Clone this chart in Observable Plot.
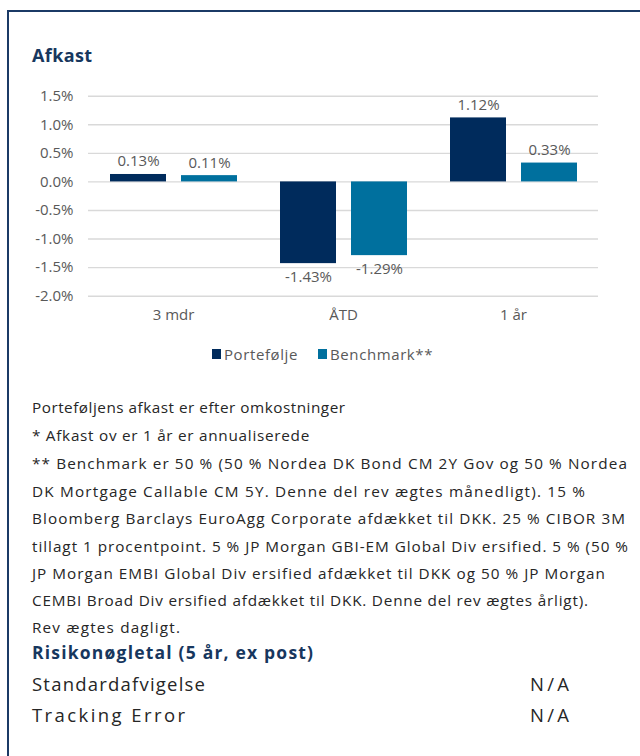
<!DOCTYPE html>
<html>
<head>
<meta charset="utf-8">
<script src="https://cdn.jsdelivr.net/npm/d3@7"></script>
<script src="https://cdn.jsdelivr.net/npm/@observablehq/plot@0.6"></script>
<style>
  html, body { margin: 0; padding: 0; background: #fff; }
  body { width: 640px; height: 756px; position: relative; overflow: hidden; font-family: "Open Sans", sans-serif; color: #262626; }
  .frame { position: absolute; left: 7px; top: 10px; width: 700px; height: 800px; border-top: 2.5px solid #1b3a66; border-left: 2.5px solid #1b3a66; box-sizing: border-box; }
  .abs { position: absolute; white-space: nowrap; line-height: 20px; }
  .title { font-weight: 700; color: #17375e; font-size: 18px; }
  .note { font-size: 15.3px; color: #262626; }
  .risk { font-size: 18.5px; color: #262626; }
  #chart { position: absolute; left: 0; top: 70px; }
  #legend { position: absolute; left: 212px; top: 344px; display: flex; align-items: center; font-size: 15px; color: #595959; line-height: 20px; letter-spacing: 0.6px; }
  #legend .item { display: flex; align-items: center; margin-right: 20px; }
  #legend .sw { width: 9px; height: 10px; margin-right: 3px; }
</style>
</head>
<body>
<div class="frame"></div>
<div class="abs title" style="left:32px; top:45px; letter-spacing:0.4px;">Afkast</div>
<div id="chart"></div>
<div id="legend"></div>
<div id="notes"></div>
<script>
// ---- data ----
const categories = ["3 mdr", "ÅTD", "1 år"];
const seriesNames = ["Portefølje", "Benchmark**"];
const portefolje = [0.13, -1.43, 1.12];
const benchmark = [0.11, -1.29, 0.33];
const seriesColors = ["#002b5c", "#00709e"];
const yTicks = [-2.0, -1.5, -1.0, -0.5, 0.0, 0.5, 1.0, 1.5];

const noteLines = [
  "Porteføljens afkast er efter omkostninger",
  "*  Afkast ov er 1 år er annualiserede",
  "** Benchmark er 50 % (50 % Nordea DK Bond CM 2Y Gov  og 50 % Nordea",
  "DK Mortgage Callable CM 5Y. Denne del rev ægtes månedligt). 15 %",
  "Bloomberg Barclays EuroAgg Corporate afdækket til DKK. 25 % CIBOR 3M",
  "tillagt 1 procentpoint. 5 % JP Morgan GBI-EM Global Div ersified. 5 % (50 %",
  "JP Morgan EMBI Global Div ersified afdækket til DKK og 50 % JP Morgan",
  "CEMBI Broad Div ersified afdækket til DKK. Denne del rev ægtes årligt).",
  "Rev ægtes dagligt."
];
const riskTitle = "Risikonøgletal (5 år, ex post)";
const riskNames = ["Standardafvigelse", "Tracking Error"];
const riskValues = ["N/A", "N/A"];

const noteCenters = [407, 435, 463, 490.5, 518, 545.5, 573, 600, 627];
const noteWidths = [313, 278, 596, 553, 593, 596, 573, 556, 148];
const riskTitleWidth = 281;
const riskCenters = [684, 715];
const riskNameWidths = [173, 153];
const riskValueWidth = 39;

// ---- table for Plot ----
const rows = [];
categories.forEach((c, i) => {
  rows.push({cat: c, series: seriesNames[0], value: portefolje[i]});
  rows.push({cat: c, series: seriesNames[1], value: benchmark[i]});
});
const fmtPct = d => d.toFixed(2) + "%";

const plot = Plot.plot({
  width: 640,
  height: 265,
  marginLeft: 87,
  marginRight: 42,
  marginTop: 25.7,
  marginBottom: 39.3,
  style: {fontFamily: "Open Sans, sans-serif", fontSize: "15px", color: "#595959", background: "transparent"},
  fx: {domain: categories, padding: 0, axis: "bottom", tickSize: 0, tickPadding: 13, label: null},
  x: {domain: seriesNames, axis: null, paddingInner: 0.2125, paddingOuter: 0.289},
  y: {domain: [-2, 1.5], ticks: yTicks, tickFormat: d => d.toFixed(1) + "%", tickSize: 0, tickPadding: 15, label: null},
  color: {domain: seriesNames, range: seriesColors},
  marks: [
    Plot.ruleY(yTicks, {stroke: "#d9d9d9", strokeWidth: 1.4}),
    Plot.barY(rows, {fx: "cat", x: "series", y: "value", fill: "series"}),
    Plot.text(rows.filter(d => d.value >= 0), {fx: "cat", x: "series", y: "value", text: d => fmtPct(d.value), lineAnchor: "bottom", dy: -8, fill: "#595959"}),
    Plot.text(rows.filter(d => d.value < 0), {fx: "cat", x: "series", y: "value", text: d => fmtPct(d.value), lineAnchor: "top", dy: 8, fill: "#595959"})
  ]
});
document.getElementById("chart").appendChild(plot);

// ---- legend ----
const legend = document.getElementById("legend");
seriesNames.forEach((s, i) => {
  const item = document.createElement("div");
  item.className = "item";
  const sw = document.createElement("span");
  sw.className = "sw";
  sw.style.background = seriesColors[i];
  const t = document.createElement("span");
  t.textContent = s;
  item.appendChild(sw); item.appendChild(t);
  legend.appendChild(item);
});

// ---- notes ----
function fit(el, target) {
  const w = el.getBoundingClientRect().width;
  const n = el.textContent.length;
  if (n > 1) el.style.letterSpacing = ((target - w) / (n - 1)) + "px";
}
function addLine(cls, text, left, center, width, fs) {
  const d = document.createElement("div");
  d.className = "abs " + cls;
  d.style.left = left + "px";
  d.style.top = (center - 10) + "px";
  if (fs) d.style.fontSize = fs;
  d.textContent = text;
  document.getElementById("notes").appendChild(d);
  fit(d, width);
  return d;
}
noteLines.forEach((line, i) => addLine("note", line, 32, noteCenters[i], noteWidths[i]));
addLine("title", riskTitle, 32, 652, riskTitleWidth, "17.5px");
riskNames.forEach((n, i) => {
  addLine("risk", n, 32, riskCenters[i], riskNameWidths[i]);
  addLine("risk", riskValues[i], 530, riskCenters[i], riskValueWidth);
});
</script>
</body>
</html>
